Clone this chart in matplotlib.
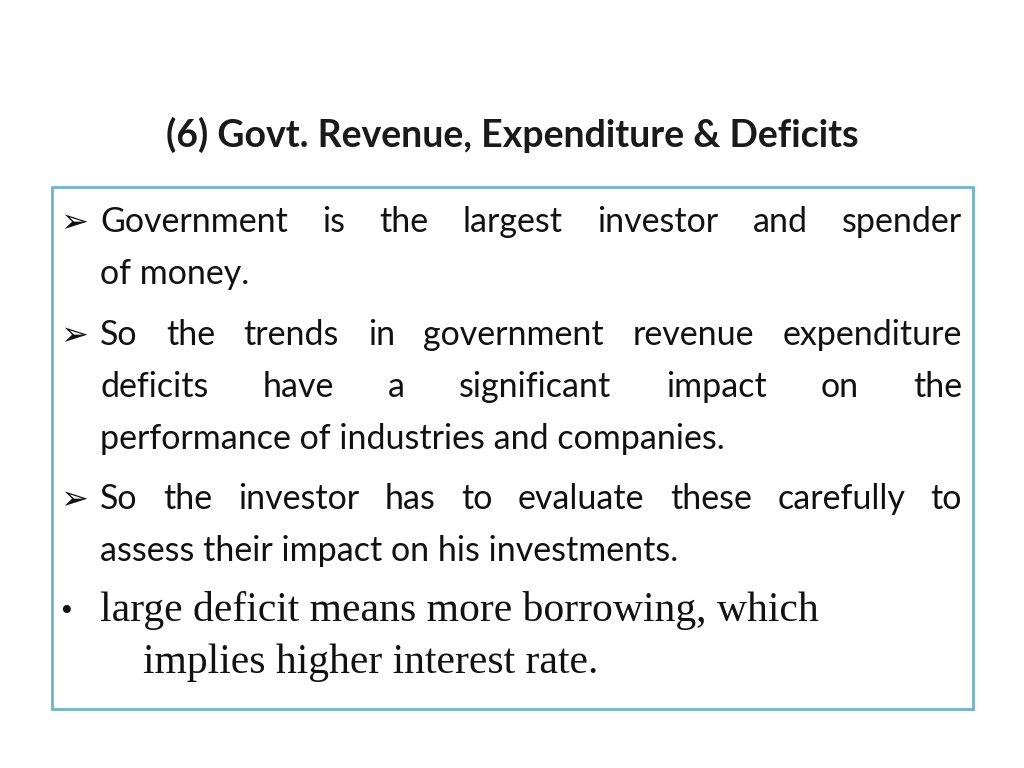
import matplotlib
matplotlib.use("Agg")
import matplotlib.pyplot as plt
from matplotlib.patches import Rectangle

title = "(6) Govt. Revenue, Expenditure & Deficits"
# (bullet, text, baseline y, justify, x_start)
lines = [
    ("➢", "Government is the largest investor and spender", 232, True, 100),
    (None, "of money.", 284, False, 100),
    ("➢", "So the trends in government revenue expenditure", 345, True, 100),
    (None, "deficits have a significant impact on the", 397, True, 100),
    (None, "performance of industries and companies.", 449, False, 100),
    ("➢", "So the investor has to evaluate these carefully to", 509, True, 100),
    (None, "assess their impact on his investments.", 561, False, 100),
]
serif_lines = [
    ("•", "large deficit means more borrowing, which", 621, 100),
    (None, "implies higher interest rate.", 673, 143),
]

fig = plt.figure(figsize=(10.24, 7.68), dpi=100)
ax = fig.add_axes([0, 0, 1, 1])
ax.set_xlim(0, 1024)
ax.set_ylim(768, 0)
ax.axis("off")

sans = "Lato"
ax.text(512, 147, title, ha="center", va="baseline", fontsize=27, fontweight="bold",
        family=sans, color="#1a1a1a")
ax.add_patch(Rectangle((52, 187), 921, 522, fill=False, edgecolor="#6FB3CF", lw=2))

fig.canvas.draw()
r = fig.canvas.get_renderer()

def width(t):
    return t.get_window_extent(renderer=r).width

right = 962
for b, txt, y, just, x0 in lines:
    if b:
        ax.text(60, y, b, ha="left", va="baseline", fontsize=24, fontweight="bold",
                family="DejaVu Sans", color="#111")
    kw = dict(ha="left", va="baseline", fontsize=24.5, family=sans, color="#111")
    if not just:
        ax.text(x0, y, txt, **kw)
        continue
    words = txt.split()
    objs = [ax.text(0, y, w, **kw) for w in words]
    ws = [width(o) for o in objs]
    gap = (right - x0 - sum(ws)) / (len(words) - 1)
    x = x0
    for o, w in zip(objs, ws):
        o.set_x(x)
        x += w + gap

for b, txt, y, x0 in serif_lines:
    if b:
        ax.text(60, y, b, ha="left", va="baseline", fontsize=24, family="Liberation Serif", color="#111")
    ax.text(x0, y, txt, ha="left", va="baseline", fontsize=30, family="Liberation Serif", color="#111")

fig.savefig("out.png", dpi=100)
